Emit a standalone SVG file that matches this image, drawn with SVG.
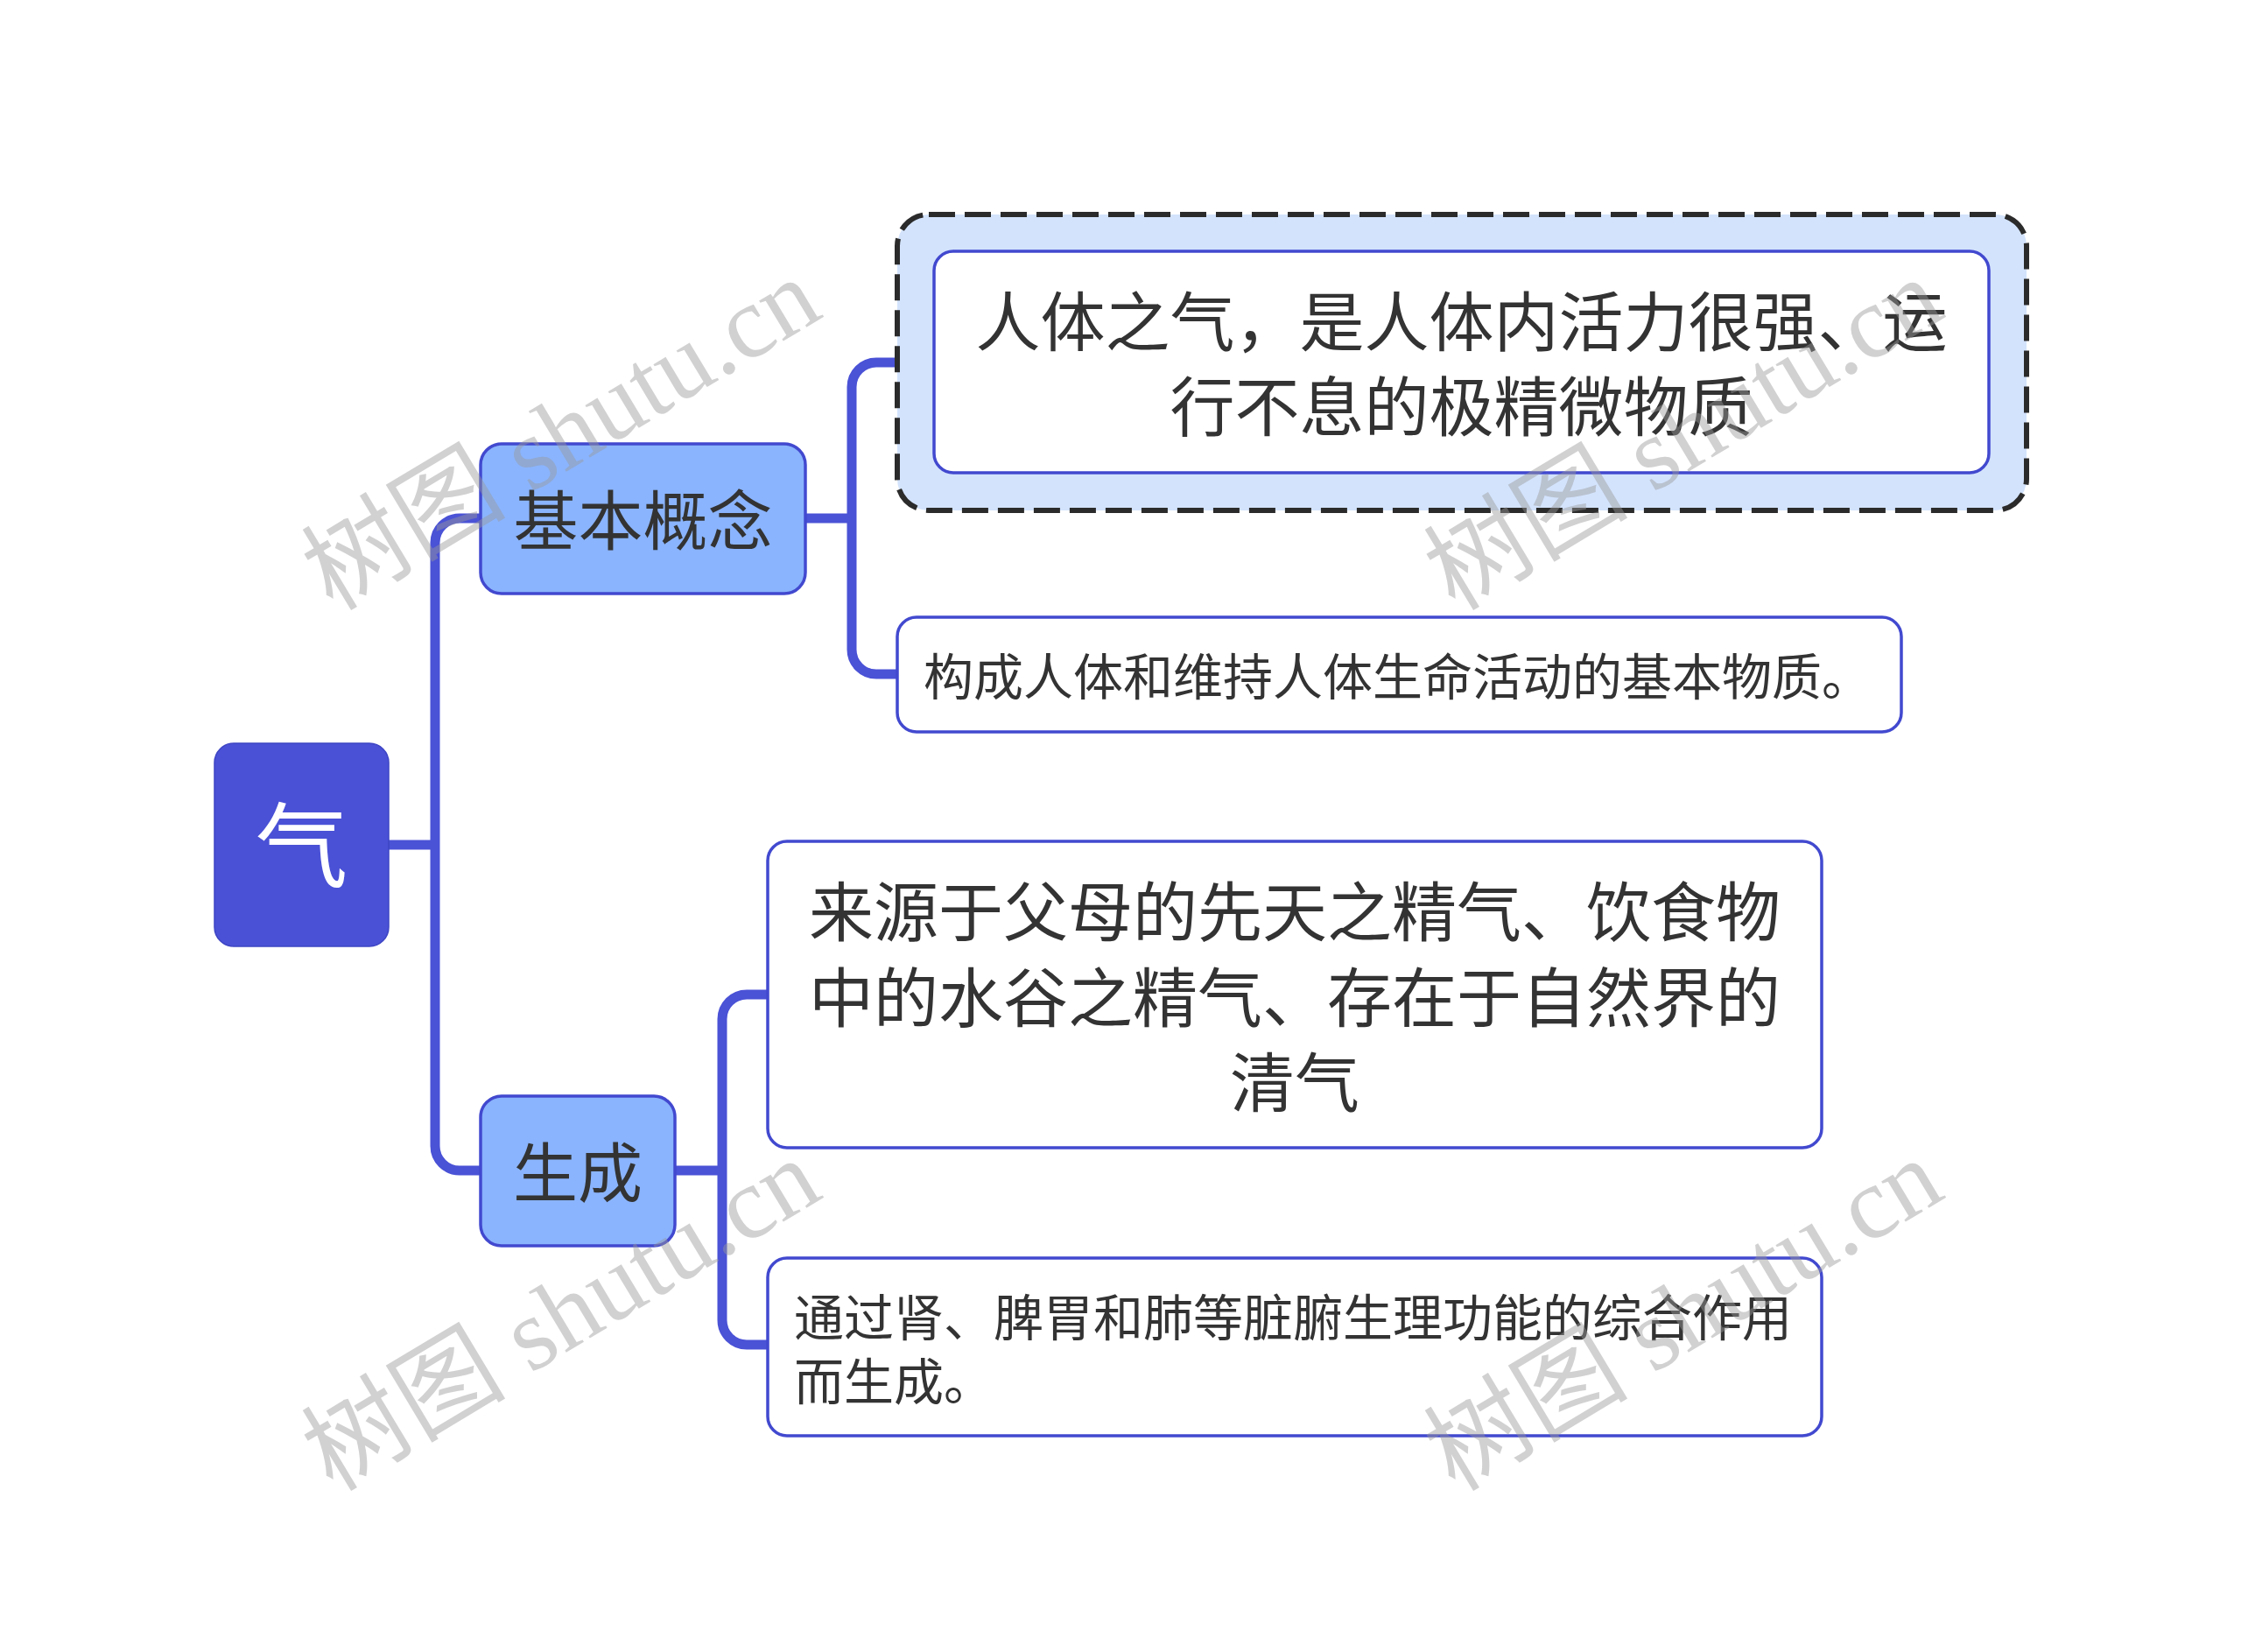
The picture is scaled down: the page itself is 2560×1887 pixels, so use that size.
<svg xmlns="http://www.w3.org/2000/svg" width="2560" height="1887" viewBox="0 0 2560 1887">
<style>
.t{font-family:"Noto Sans CJK SC","Noto Sans",sans-serif;fill:#333333;dominant-baseline:central}
.leaf{fill:#ffffff;stroke:#4249CF;stroke-width:3.5}
.sub{fill:#8AB4FD;stroke:#4249CF;stroke-width:3.5}
.conn{fill:none;stroke:#4A52D6;stroke-width:11}
.wm{font-family:"Liberation Serif","Noto Sans CJK SC",serif;font-size:117px;fill:#9a9a9a;fill-opacity:0.45}
</style>
<rect width="2560" height="1887" fill="#ffffff"/>
<g id="connectors">
<path class="conn" d="M444 965 H497"/>
<path class="conn" d="M549 592 H525 A28 28 0 0 0 497 620 V1309 A28 28 0 0 0 525 1337 H549"/>
<path class="conn" d="M920 592 H973"/>
<path class="conn" d="M1066 414 H1001 A28 28 0 0 0 973 442 V742 A28 28 0 0 0 1001 770 H1025"/>
<path class="conn" d="M771 1337 H825"/>
<path class="conn" d="M877 1136 H853 A28 28 0 0 0 825 1164 V1508 A28 28 0 0 0 853 1536 H877"/>
</g>
<g id="root">
<rect x="245" y="849" width="199" height="232" rx="22" fill="#4A51D6" stroke="#3E45C4" stroke-width="1.5"/>
<text class="t" x="344.5" y="959" font-size="106" text-anchor="middle" style="fill:#ffffff">气</text>
</g>
<g id="n-basic">
<rect class="sub" x="549" y="507" width="371" height="171" rx="24"/>
<text class="t" x="734.5" y="589" font-size="74" text-anchor="middle">基本概念</text>
</g>
<g id="n-gen">
<rect class="sub" x="549" y="1252" width="222" height="171" rx="24"/>
<text class="t" x="660" y="1334" font-size="74" text-anchor="middle">生成</text>
</g>
<g id="n-def1">
<rect x="1025" y="245" width="1290" height="338" rx="36" fill="#D3E3FC" stroke="#2B2B2B" stroke-width="6" stroke-dasharray="30 11"/>
<rect class="leaf" x="1067" y="287" width="1205" height="253" rx="22"/>
<text class="t" x="1669.5" y="362" font-size="74" text-anchor="middle">人体之气，是人体内活力很强、运</text>
<text class="t" x="1669.5" y="459" font-size="74" text-anchor="middle">行不息的极精微物质</text>
</g>
<g id="n-def2">
<rect class="leaf" x="1025" y="705" width="1147" height="131" rx="22"/>
<text class="t" x="1055" y="769" font-size="57">构成人体和维持人体生命活动的基本物质。</text>
</g>
<g id="n-src">
<rect class="leaf" x="877" y="961" width="1204" height="350" rx="22"/>
<text class="t" x="1479" y="1036" font-size="74" text-anchor="middle">来源于父母的先天之精气、饮食物</text>
<text class="t" x="1479" y="1134" font-size="74" text-anchor="middle">中的水谷之精气、存在于自然界的</text>
<text class="t" x="1479" y="1231" font-size="74" text-anchor="middle">清气</text>
</g>
<g id="n-proc">
<rect class="leaf" x="877" y="1437" width="1204" height="203" rx="22"/>
<text class="t" x="907" y="1501" font-size="57">通过肾、脾胃和肺等脏腑生理功能的综合作用</text>
<text class="t" x="907" y="1574" font-size="57">而生成。</text>
</g>
<g id="watermarks">
<text class="wm" x="380" y="699" transform="rotate(-31 380 699)">树图 shutu.cn</text>
<text class="wm" x="1662" y="699" transform="rotate(-31 1662 699)">树图 shutu.cn</text>
<text class="wm" x="380" y="1705" transform="rotate(-31 380 1705)">树图 shutu.cn</text>
<text class="wm" x="1662" y="1705" transform="rotate(-31 1662 1705)">树图 shutu.cn</text>
</g>
</svg>
